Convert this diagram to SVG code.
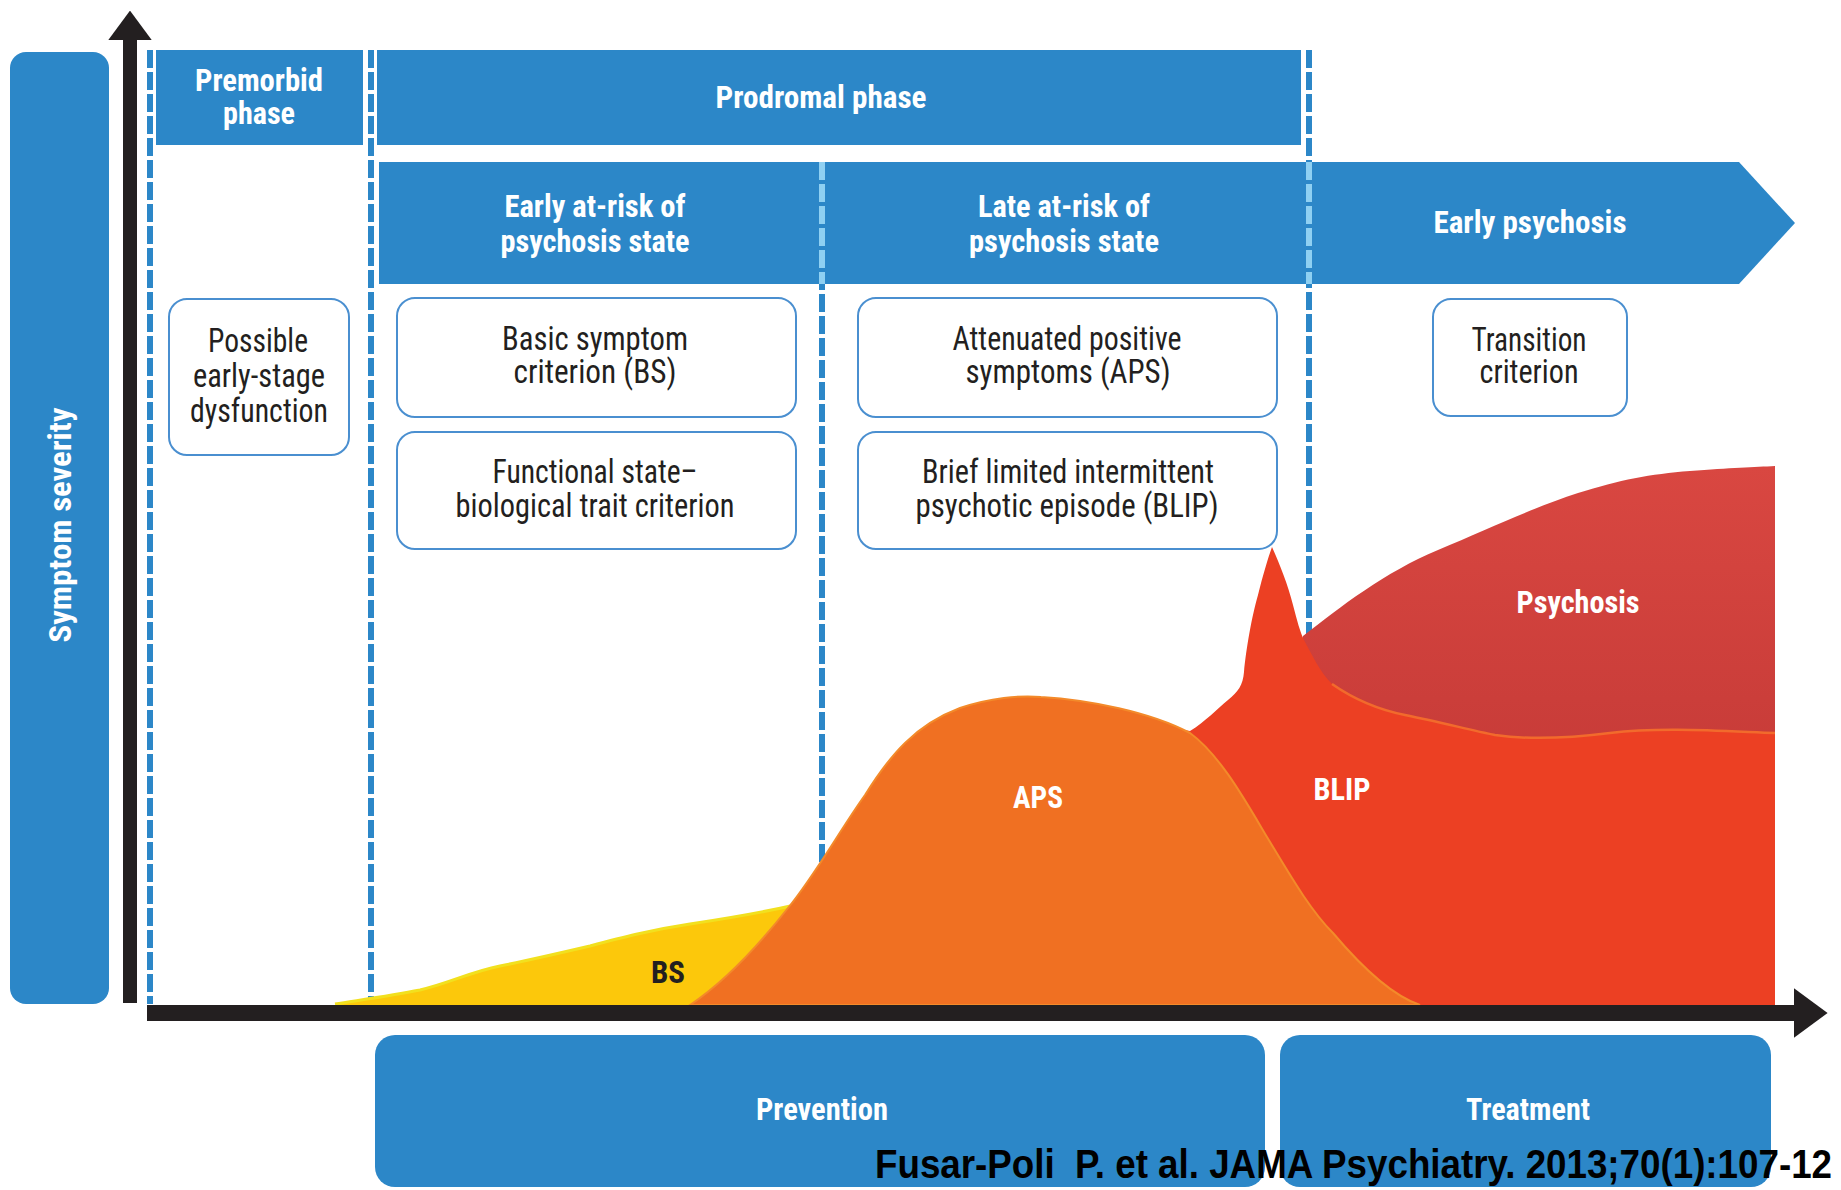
<svg xmlns="http://www.w3.org/2000/svg" width="1841" height="1190" viewBox="0 0 1841 1190">
  <defs>
    <style>
      .band { fill: #2C87C8; }
      .hd { font-family: "Liberation Sans Narrow", "Roboto Condensed", "DejaVu Sans Condensed", "Liberation Sans", Arial, sans-serif; font-weight: bold; font-size: 32px; fill: #FFFFFF; text-anchor: middle; }
      .bx { font-family: "Liberation Sans Narrow", "Roboto Condensed", "DejaVu Sans Condensed", "Liberation Sans", Arial, sans-serif; font-size: 33px; fill: #231F20; text-anchor: middle; }
      .card { fill: #FFFFFF; stroke: #4A8FD0; stroke-width: 2; }
      .div { fill: none; stroke: #2C87C8; stroke-width: 6; stroke-dasharray: 18 4; }
      .div-lt { fill: none; stroke: #8FD0F2; stroke-width: 6; stroke-dasharray: 18 4; }
      .axis { fill: none; stroke: #231F20; }
      .cite { font-family: "Liberation Sans", Arial, sans-serif; font-weight: bold; font-size: 40px; fill: #000000; }
    </style>
    <marker id="arrowhead" viewBox="0 0 2.1 3.1" refX="0" refY="1.55" markerWidth="2.1" markerHeight="3.1" orient="auto" markerUnits="strokeWidth">
      <path d="M0,0 L2.1,1.55 L0,3.1 Z" fill="#231F20"/>
    </marker>
    <linearGradient id="psyGrad" x1="0" y1="0" x2="0" y2="1">
      <stop offset="0" stop-color="#D94741"/>
      <stop offset="1" stop-color="#C53A37"/>
    </linearGradient>
  </defs>

  <rect width="1841" height="1190" fill="#FFFFFF"/>

  <!-- vertical axis label bar -->
  <g id="severity-label">
    <rect class="band" x="10" y="52" width="99" height="952" rx="16"/>
    <text class="hd" transform="translate(71,525) rotate(-90)" font-size="34" textLength="235" lengthAdjust="spacingAndGlyphs">Symptom severity</text>
  </g>

  <!-- phase dividers -->
  <g id="dividers">
    <line class="div" x1="150" y1="50" x2="150" y2="1004"/>
    <line class="div" x1="371" y1="50" x2="371" y2="1000"/>
    <line class="div" x1="822" y1="162" x2="822" y2="990"/>
    <line class="div" x1="1309" y1="50" x2="1309" y2="700"/>
  </g>

  <!-- top phase headers -->
  <g id="premorbid-phase">
    <rect class="band" x="156" y="50" width="207" height="95"/>
    <text class="hd" x="259" y="91" textLength="128" lengthAdjust="spacingAndGlyphs">Premorbid</text>
    <text class="hd" x="259" y="124" textLength="72" lengthAdjust="spacingAndGlyphs">phase</text>
  </g>
  <g id="prodromal-phase">
    <rect class="band" x="377" y="50" width="924" height="95"/>
    <text class="hd" x="821" y="108" textLength="211" lengthAdjust="spacingAndGlyphs">Prodromal phase</text>
  </g>

  <!-- state headers -->
  <g id="early-at-risk">
    <rect class="band" x="379" y="162" width="443" height="122"/>
    <text class="hd" x="595" y="217" textLength="181" lengthAdjust="spacingAndGlyphs">Early at-risk of</text>
    <text class="hd" x="595" y="252" textLength="189" lengthAdjust="spacingAndGlyphs">psychosis state</text>
  </g>
  <g id="late-at-risk">
    <rect class="band" x="822" y="162" width="487" height="122"/>
    <text class="hd" x="1064" y="217" textLength="172" lengthAdjust="spacingAndGlyphs">Late at-risk of</text>
    <text class="hd" x="1064" y="252" textLength="190" lengthAdjust="spacingAndGlyphs">psychosis state</text>
  </g>
  <g id="early-psychosis">
    <polygon class="band" points="1309,162 1739,162 1795,223 1739,284 1309,284"/>
    <text class="hd" x="1530" y="233" textLength="193" lengthAdjust="spacingAndGlyphs">Early psychosis</text>
  </g>

  <!-- divider segments over the state headers -->
  <g id="dividers-on-band">
    <line class="div-lt" x1="822" y1="162" x2="822" y2="284"/>
    <line class="div-lt" x1="1309" y1="162" x2="1309" y2="284"/>
  </g>

  <!-- criterion cards -->
  <g id="possible-dysfunction">
    <rect class="card" x="169" y="299" width="180" height="156" rx="18"/>
    <text class="bx" x="258" y="352" textLength="100" lengthAdjust="spacingAndGlyphs">Possible</text>
    <text class="bx" x="259" y="387" textLength="132" lengthAdjust="spacingAndGlyphs">early-stage</text>
    <text class="bx" x="259" y="422" textLength="138" lengthAdjust="spacingAndGlyphs">dysfunction</text>
  </g>
  <g id="basic-symptom">
    <rect class="card" x="397" y="298" width="399" height="119" rx="18"/>
    <text class="bx" x="595" y="350" textLength="186" lengthAdjust="spacingAndGlyphs">Basic symptom</text>
    <text class="bx" x="595" y="383" textLength="163" lengthAdjust="spacingAndGlyphs">criterion (BS)</text>
  </g>
  <g id="functional-state">
    <rect class="card" x="397" y="432" width="399" height="117" rx="18"/>
    <text class="bx" x="595" y="483" textLength="205" lengthAdjust="spacingAndGlyphs">Functional state–</text>
    <text class="bx" x="595" y="517" textLength="279" lengthAdjust="spacingAndGlyphs">biological trait criterion</text>
  </g>
  <g id="attenuated-positive">
    <rect class="card" x="858" y="298" width="419" height="119" rx="18"/>
    <text class="bx" x="1067" y="350" textLength="229" lengthAdjust="spacingAndGlyphs">Attenuated positive</text>
    <text class="bx" x="1068" y="383" textLength="205" lengthAdjust="spacingAndGlyphs">symptoms (APS)</text>
  </g>
  <g id="brief-limited">
    <rect class="card" x="858" y="432" width="419" height="117" rx="18"/>
    <text class="bx" x="1068" y="483" textLength="292" lengthAdjust="spacingAndGlyphs">Brief limited intermittent</text>
    <text class="bx" x="1067" y="517" textLength="303" lengthAdjust="spacingAndGlyphs">psychotic episode (BLIP)</text>
  </g>
  <g id="transition">
    <rect class="card" x="1433" y="299" width="194" height="117" rx="18"/>
    <text class="bx" x="1529" y="351" textLength="115" lengthAdjust="spacingAndGlyphs">Transition</text>
    <text class="bx" x="1529" y="383" textLength="99" lengthAdjust="spacingAndGlyphs">criterion</text>
  </g>

  <!-- symptom areas -->
  <g id="psychosis-area">
    <path fill="url(#psyGrad)" d="M1290,700 L1303,636 C1340,607 1385,572 1438,550 C1490,528 1535,507 1578,493 C1620,480 1650,474 1690,471 C1730,468 1755,467 1775,466 L1775,800 L1290,800 Z"/>
    <text class="hd" x="1578" y="613" textLength="123" lengthAdjust="spacingAndGlyphs">Psychosis</text>
  </g>
  <g id="blip-area">
    <path fill="#EC4023" d="M1140,1005 L1140,722 L1190,731 C1205,722 1218,708 1228,700 C1238,692 1243,685 1244,672 C1246,650 1252,615 1258,595 C1263,575 1268,558 1272,547 C1280,565 1288,585 1293,605 C1297,620 1300,632 1304,640 C1312,655 1320,672 1332,684 C1355,700 1380,710 1405,715 C1440,722 1470,730 1495,735 C1530,740 1570,738 1610,733 C1660,727 1720,731 1775,733 L1775,1005 Z"/>
    <path fill="none" stroke="#F26A2C" stroke-width="2.5" d="M1332,684 C1355,700 1380,710 1405,715 C1440,722 1470,730 1495,735 C1530,740 1570,738 1610,733 C1660,727 1720,731 1775,733"/>
    <text class="hd" x="1342" y="800" textLength="57" lengthAdjust="spacingAndGlyphs">BLIP</text>
  </g>
  <g id="bs-area">
    <path fill="#FCC80B" d="M335,1005 C360,1000 390,996 420,990 C450,983 470,972 500,966 C530,960 560,953 590,946 C620,938 650,930 690,924 C730,918 760,913 795,905 L800,1005 Z"/>
    <path fill="none" stroke="#F2E01E" stroke-width="3" d="M335,1004 C360,1000 390,996 420,990 C450,983 470,972 500,966 C530,960 560,953 590,946 C620,938 650,930 690,924 C730,918 760,913 795,905"/>
    <text class="hd" x="668" y="983" textLength="34" lengthAdjust="spacingAndGlyphs" style="fill:#231F20">BS</text>
  </g>
  <g id="aps-area">
    <path fill="#F07022" stroke="#F38A2A" stroke-width="2" d="M690,1005 C720,985 755,950 788,908 C815,875 840,830 865,795 C890,755 915,725 960,708 C990,698 1020,695 1041,697 C1090,700 1150,712 1190,733 C1220,755 1245,800 1267,837 C1290,875 1310,910 1333,933 C1360,965 1390,995 1420,1005 Z"/>
    <text class="hd" x="1038" y="808" textLength="50" lengthAdjust="spacingAndGlyphs">APS</text>
  </g>

  <!-- axes -->
  <g id="connectors">
    <line class="axis" x1="130" y1="1003" x2="130" y2="40" stroke-width="14" marker-end="url(#arrowhead)"/>
    <line class="axis" x1="147" y1="1013" x2="1794" y2="1013" stroke-width="16" marker-end="url(#arrowhead)"/>
  </g>

  <!-- intervention bands -->
  <g id="prevention">
    <rect class="band" x="375" y="1035" width="890" height="152" rx="20"/>
    <text class="hd" x="822" y="1120" textLength="132" lengthAdjust="spacingAndGlyphs">Prevention</text>
  </g>
  <g id="treatment">
    <rect class="band" x="1280" y="1035" width="491" height="152" rx="20"/>
    <text class="hd" x="1528" y="1120" textLength="124" lengthAdjust="spacingAndGlyphs">Treatment</text>
  </g>

  <!-- source line -->
  <text class="cite" x="875" y="1178" xml:space="preserve" textLength="957" lengthAdjust="spacingAndGlyphs">Fusar-Poli  P. et al. JAMA Psychiatry. 2013;70(1):107-12</text>
</svg>
